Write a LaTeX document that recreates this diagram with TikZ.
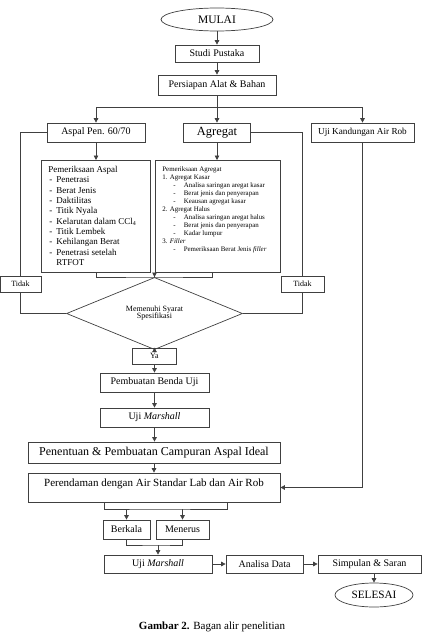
\documentclass[tikz,border=0pt]{standalone}
\usepackage{fontspec}
\setmainfont{Liberation Serif}
\usepackage{tikz}
\usetikzlibrary{shapes.geometric,arrows.meta}

\newcommand\fs[1]{\fontsize{#1}{#1}\selectfont}
\newcommand\asitem[1]{\hspace*{1pt}\makebox[7pt][l]{-}#1}
\newcommand\agitem[1]{\hspace*{11pt}\makebox[10.5pt][l]{-}#1}

\begin{document}
\begin{tikzpicture}[x=1pt,y=-1pt,
		terminal/.style = {
			ellipse,draw,inner sep=0pt,
			minimum width=112,minimum height=23,
			font=\fs{11.5}
		},
		process/.style = {
			rectangle,draw,inner sep=0pt,
			minimum height=19,font=\fs{10}
		},
		detail/.style = {
			rectangle,draw,anchor=north west,
			inner xsep=7pt,inner ysep=6pt
		},
		decision/.style = {
			diamond,draw,inner sep=0pt,
			minimum width=176,minimum height=43,
			font=\fs{8}
		},
		answer/.style = {
			rectangle,draw,inner sep=0pt,
			minimum height=16,font=\fs{8}
		},
		>={Triangle[length=4.5pt,width=4.5pt]},line width=0.7pt,black!75,text=black]
	\useasboundingbox (0,0) rectangle (422,637);

	\node [terminal] (mulai) at (217,19.5) {MULAI};
	\node [process,minimum width=84,minimum height=17] (studi) at (217,53.5) {Studi Pustaka};
	\node [process,minimum width=118,minimum height=20] (persiapan) at (217,85) {Persiapan Alat \& Bahan};
	\coordinate (bagi) at (217,107);

	\node [process,minimum width=98] (aspal) at (96,132.5) {Aspal Pen. 60/70};
	\node [process,minimum width=67,font=\fs{12.5}] (agregat) at (217,132.5) {Agregat};
	\node [process,minimum width=103,font=\fs{9.2}] (ujiair) at (362.5,132.5) {Uji Kandungan Air Rob};

	\node [detail,font=\fs{9}] (aspaldet) at (41,160) {%
		\begin{minipage}[t][100pt][t]{95pt}\fontsize{9}{10.33}\selectfont
			Pemeriksaan Aspal\\
			\asitem{Penetrasi}\\
			\asitem{Berat Jenis}\\
			\asitem{Daktilitas}\\
			\asitem{Titik Nyala}\\
			\asitem{Kelarutan dalam CCl\textsubscript{4}}\\
			\asitem{Titik Lembek}\\
			\asitem{Kehilangan Berat}\\
			\asitem{Penetrasi setelah}\\
			\hspace*{8pt}RTFOT
		\end{minipage}};
	\node [detail] (agregatdet) at (155,160) {%
		\begin{minipage}[t][100pt][t]{111pt}\fontsize{6.9}{8}\selectfont
			Pemeriksaan Agregat\\
			1. Agregat Kasar\\
			\agitem{Analisa saringan aregat kasar}\\
			\agitem{Berat jenis dan penyerapan}\\
			\agitem{Keausan agregat kasar}\\
			2. Agregat Halus\\
			\agitem{Analisa saringan aregat halus}\\
			\agitem{Berat jenis dan penyerapan}\\
			\agitem{Kadar lumpur}\\
			3. \textit{Filler}\\
			\agitem{Pemeriksaan Berat Jenis \textit{filler}}
		\end{minipage}};
	\coordinate (gabung) at (154.5,277);

	\node [decision] (syarat) at (154.5,313.5) {\begin{tabular}{@{}c@{}}Memenuhi Syarat\\[-1pt]Spesifikasi\end{tabular}};
	\node [answer,minimum width=41] (tidakkiri) at (20.5,284) {Tidak};
	\node [answer,minimum width=43] (tidakkanan) at (302.5,284) {Tidak};
	\node [answer,minimum width=44] (ya) at (154.5,356) {Ya};

	\node [process,minimum width=109] (benda) at (154.5,382.5) {Pembuatan Benda Uji};
	\node [process,minimum width=109] (marshall) at (154.5,417.5) {Uji \textit{Marshall}};
	\node [process,minimum width=252,minimum height=21,font=\fs{12}] (penentuan) at (154,452.5) {Penentuan \& Pembuatan Campuran Aspal Ideal};
	\node [process,minimum width=252,minimum height=29,font=\fs{11},text height=7.5pt,text depth=9.5pt] (rendam) at (154,487.5) {Perendaman dengan Air Standar Lab dan Air Rob};
	\coordinate (pisah) at (154,509);

	\node [process,minimum width=47] (berkala) at (126.5,529.5) {Berkala};
	\node [process,minimum width=53] (menerus) at (182.5,529.5) {Menerus};
	\coordinate (satu) at (158,545);

	\node [process,minimum width=108,minimum height=18] (marshalldua) at (158,564) {Uji \textit{Marshall}};
	\node [process,minimum width=77,minimum height=18] (analisa) at (264.5,564) {Analisa Data};
	\node [process,minimum width=103,minimum height=18] (simpulan) at (369.5,564) {Simpulan \& Saran};
	\node [terminal,minimum width=78,minimum height=24,font=\fs{11.2}] (selesai) at (374,595) {SELESAI};

	\node [font=\fs{11}] (judul) at (212,627) {\textbf{Gambar 2.} Bagan alir penelitian};

	\draw [->] (mulai) -- (studi);
	\draw [->] (studi) -- (persiapan);
	\draw (persiapan) -- (bagi);
	\draw [->] (bagi) -| (aspal.north);
	\draw [->] (bagi) -- (agregat);
	\draw [->] (bagi) -| (ujiair.north);
	\draw [->] (aspal) -- (aspal |- aspaldet.north);
	\draw [->] (agregat) -- (agregat |- agregatdet.north);
	\draw (aspal |- aspaldet.south) |- (gabung) -| (212,272);
	\draw [->] (gabung) -- (syarat.north);
	\draw (syarat.west) -| (tidakkiri.south);
	\draw (tidakkiri.north) |- (aspal.west);
	\draw (syarat.east) -| (tidakkanan.south);
	\draw (tidakkanan.north) |- (agregat.east);
	\draw [->] (syarat) -- (ya);
	\draw [->] (ya) -- (benda);
	\draw [->] (benda) -- (marshall);
	\draw [->] (marshall) -- (marshall |- penentuan.north);
	\draw [->] (penentuan) -- (rendam);
	\draw [->] (ujiair) |- (rendam.east);
	\draw (104,502) |- (pisah) -| (227,502);
	\draw [->] (berkala |- pisah) -- (berkala);
	\draw [->] (menerus |- pisah) -- (menerus);
	\draw (berkala) |- (satu) -| (menerus);
	\draw [->] (satu) -- (marshalldua);
	\draw [->] (marshalldua) -- (analisa);
	\draw [->] (analisa) -- (simpulan);
	\draw [->] (selesai |- simpulan.south) -- (selesai);
\end{tikzpicture}
\end{document}
